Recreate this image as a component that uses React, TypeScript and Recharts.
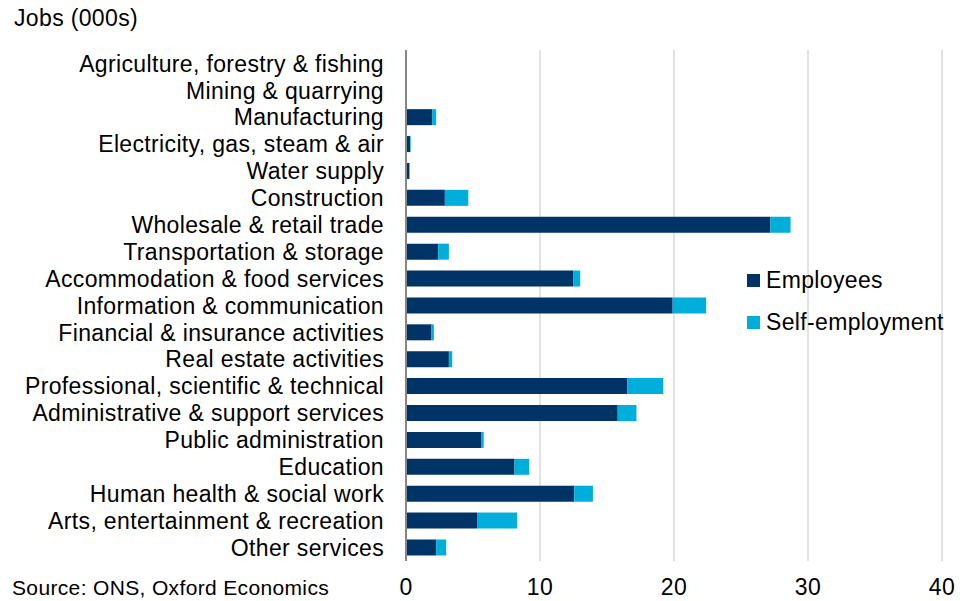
import { BarChart, Bar, XAxis, YAxis, CartesianGrid } from 'recharts'

const categories = [
    'Agriculture, forestry & fishing',
    'Mining & quarrying',
    'Manufacturing',
    'Electricity, gas, steam & air',
    'Water supply',
    'Construction',
    'Wholesale & retail trade',
    'Transportation & storage',
    'Accommodation & food services',
    'Information & communication',
    'Financial & insurance activities',
    'Real estate activities',
    'Professional, scientific & technical',
    'Administrative & support services',
    'Public administration',
    'Education',
    'Human health & social work',
    'Arts, entertainment & recreation',
    'Other services',
]

const employees = [0, 0, 1.95, 0.3, 0.25, 2.9, 27.2, 2.4, 12.5, 19.9, 1.9, 3.2, 16.5, 15.8, 5.6, 8.1, 12.55, 5.3, 2.25]
const selfEmployment = [0, 0, 0.3, 0.05, 0.03, 1.75, 1.5, 0.8, 0.5, 2.5, 0.18, 0.25, 2.7, 1.4, 0.2, 1.1, 1.4, 3.0, 0.75]

const xTicks = [0, 10, 20, 30, 40]

const EMP_COLOR = '#003466'
const SELF_COLOR = '#00AEDB'
const FONT = '"Liberation Sans", Arial, sans-serif'
const SPACING = 0.35

const data = categories.map((name, i) => ({
    name,
    employees: employees[i],
    self: selfEmployment[i],
}))

const legendItems = [
    { label: 'Employees', color: EMP_COLOR },
    { label: 'Self-employment', color: SELF_COLOR },
]

export default function App() {
    const tickStyle = { fontSize: 23, fill: '#000', fontFamily: FONT, letterSpacing: SPACING }
    return (
        <div style={{ position: 'absolute', left: 0, top: 0, width: 963, height: 601, background: '#fff', fontFamily: FONT, letterSpacing: SPACING }}>
            <div style={{ position: 'absolute', left: 14, top: 4, fontSize: 23, lineHeight: '28px', color: '#000' }}>Jobs (000s)</div>
            <div style={{ position: 'absolute', left: 12, top: 575, fontSize: 21, lineHeight: '26px', color: '#000' }}>Source: ONS, Oxford Economics</div>
            <BarChart
                width={963}
                height={601}
                data={data}
                layout="vertical"
                barCategoryGap="20%"
                margin={{ top: 50, right: 21, bottom: 0, left: 0 }}
            >
                <CartesianGrid horizontal={false} stroke="#d9d9d9" strokeWidth={1.5} />
                <XAxis
                    type="number"
                    domain={[0, 40]}
                    ticks={xTicks}
                    axisLine={false}
                    tickLine={false}
                    tickSize={0}
                    tickMargin={18}
                    height={40}
                    tick={tickStyle}
                    interval={0}
                />
                <YAxis
                    type="category"
                    dataKey="name"
                    width={406}
                    axisLine={{ stroke: '#868686', strokeWidth: 2 }}
                    tickLine={false}
                    tickSize={0}
                    tickMargin={22}
                    interval={0}
                    tick={tickStyle}
                />
                <Bar dataKey="employees" name="Employees" stackId="a" fill={EMP_COLOR} isAnimationActive={false} />
                <Bar dataKey="self" name="Self-employment" stackId="a" fill={SELF_COLOR} isAnimationActive={false} />
            </BarChart>
            <div style={{ position: 'absolute', left: 747, top: 259, fontSize: 23, color: '#000' }}>
                {legendItems.map(it => (
                    <div key={it.label} style={{ display: 'flex', alignItems: 'center', height: 42 }}>
                        <span style={{ display: 'inline-block', width: 13, height: 13, background: it.color, marginRight: 6 }} />
                        <span>{it.label}</span>
                    </div>
                ))}
            </div>
        </div>
    )
}
